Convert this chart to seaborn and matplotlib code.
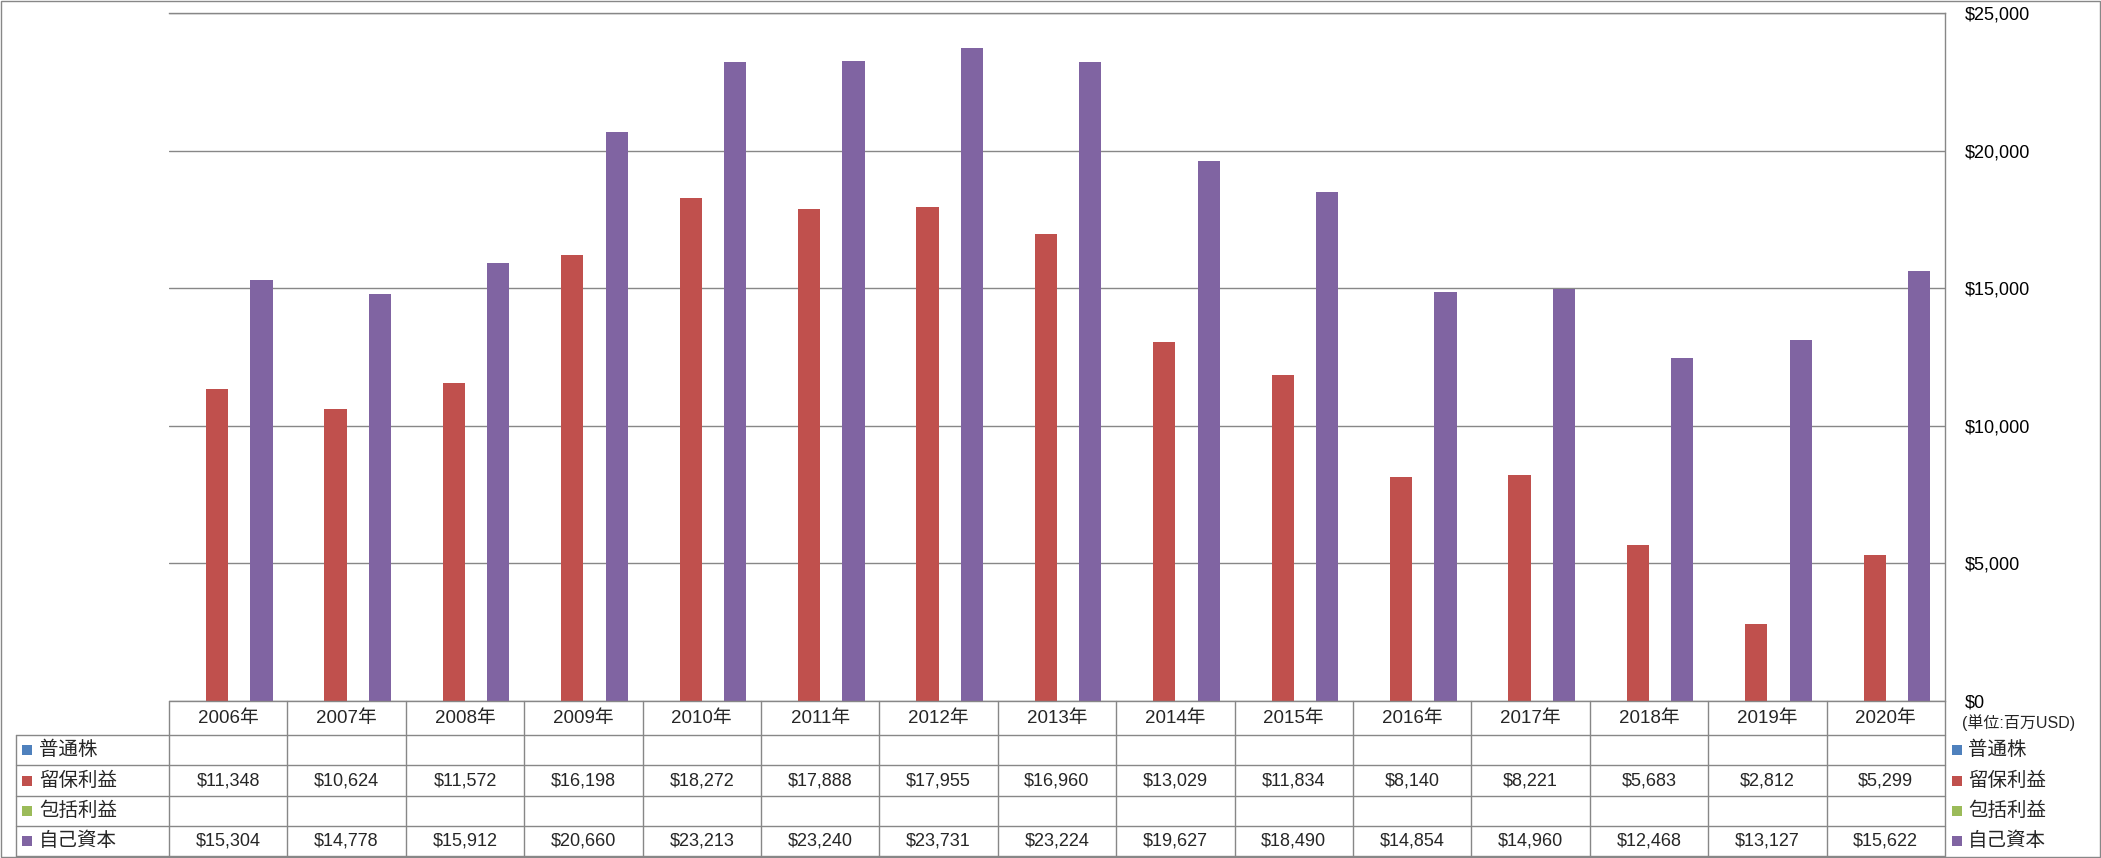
import matplotlib
matplotlib.use("Agg")
import matplotlib.pyplot as plt
import matplotlib.transforms as mtransforms
from matplotlib.patches import Rectangle
import seaborn as sns
import pandas as pd

years = ["2006年", "2007年", "2008年", "2009年", "2010年", "2011年", "2012年", "2013年",
         "2014年", "2015年", "2016年", "2017年", "2018年", "2019年", "2020年"]
series_names = ["普通株", "留保利益", "包括利益", "自己資本"]
common_stock = [None] * 15
retained_earnings = [11348, 10624, 11572, 16198, 18272, 17888, 17955, 16960,
                     13029, 11834, 8140, 8221, 5683, 2812, 5299]
comprehensive_income = [None] * 15
equity = [15304, 14778, 15912, 20660, 23213, 23240, 23731, 23224,
          19627, 18490, 14854, 14960, 12468, 13127, 15622]
colors = ["#4F81BD", "#C0504D", "#9BBB59", "#8064A2"]
y_ticks = [0, 5000, 10000, 15000, 20000, 25000]
unit_label = "(単位:百万USD)"

all_series = [common_stock, retained_earnings, comprehensive_income, equity]

rows = []
for name, vals in zip(series_names, all_series):
    for yr, v in zip(years, vals):
        if v is not None:
            rows.append({"year": yr, "series": name, "value": v})
df = pd.DataFrame(rows)

sns.set_theme(style="white")
plt.rcParams["font.family"] = ["Liberation Sans", "Noto Sans CJK JP", "DejaVu Sans"]

W, H = 2101, 858
fig = plt.figure(figsize=(W / 100, H / 100), dpi=100)
fig.patch.set_facecolor("white")

plot_left, plot_right, plot_top, plot_bottom = 169, 1945, 13, 701
ax = fig.add_axes([plot_left / W, 1 - plot_bottom / H,
                   (plot_right - plot_left) / W, (plot_bottom - plot_top) / H])

sns.barplot(data=df, x="year", y="value", hue="series", order=years,
            hue_order=series_names, palette=dict(zip(series_names, colors)),
            width=0.75, saturation=1, errorbar=None, linewidth=0,
            legend=False, ax=ax, zorder=3)

grid_c = "#878787"
ax.set_xlim(-0.5, len(years) - 0.5)
ax.set_ylim(0, 25000)
ax.set_yticks(y_ticks)
ax.set_yticklabels([f"${v:,.0f}" for v in y_ticks], fontsize=13)
ax.set_xticks([])
ax.set_xlabel("")
ax.set_ylabel("")
ax.yaxis.grid(True, color=grid_c, linewidth=1, zorder=0)
ax.set_axisbelow(True)
ax.tick_params(axis="y", left=False, right=False, labelleft=False,
               labelright=True, length=0, pad=14, colors="black")
for s in ["left", "bottom"]:
    ax.spines[s].set_visible(False)
for s in ["top", "right"]:
    ax.spines[s].set_visible(True)
    ax.spines[s].set_color(grid_c)
    ax.spines[s].set_linewidth(1)

# overlay for the data table
ov = fig.add_axes([0, 0, 1, 1])
ov.set_xlim(0, W)
ov.set_ylim(H, 0)
ov.axis("off")
ov.patch.set_alpha(0)
blend = mtransforms.blended_transform_factory(ax.transData, ov.transData)

row_y = [701, 735, 765, 796, 826, 856]
lw = 1
n = len(years)
# top of header row
ov.plot([-0.5, n - 0.5], [row_y[0], row_y[0]], color=grid_c, lw=lw, transform=blend, clip_on=False)
# series row lines
for yv in row_y[1:]:
    ov.plot([16, plot_right], [yv, yv], color=grid_c, lw=lw, clip_on=False)
# column separators
for i in range(n + 1):
    ov.plot([i - 0.5, i - 0.5], [row_y[0], row_y[-1]], color=grid_c, lw=lw,
            transform=blend, clip_on=False)
ov.plot([16, 16], [row_y[1], row_y[-1]], color=grid_c, lw=lw, clip_on=False)

# header
hdr_y = (row_y[0] + row_y[1]) / 2
for i, yr in enumerate(years):
    ov.text(i, hdr_y, yr, transform=blend, ha="center", va="center", fontsize=13.5)

# rows
for r, (name, vals, col) in enumerate(zip(series_names, all_series, colors)):
    cy = (row_y[r + 1] + row_y[r + 2]) / 2
    ov.add_patch(Rectangle((22, cy - 5), 10, 10, facecolor=col, edgecolor="none"))
    ov.text(39, cy, name, ha="left", va="center", fontsize=14)
    ov.add_patch(Rectangle((1952, cy - 5), 10, 10, facecolor=col, edgecolor="none"))
    ov.text(1968, cy, name, ha="left", va="center", fontsize=14)
    for i, v in enumerate(vals):
        if v is not None:
            ov.text(i, cy, f"${v:,.0f}", transform=blend, ha="center", va="center",
                    fontsize=13)

ov.text(1962, 723, unit_label, ha="left", va="center", fontsize=11.5)

# outer border
ov.add_patch(Rectangle((0.5, 0.5), W - 1.5, H - 1.5, facecolor="none",
                       edgecolor=grid_c, lw=1, clip_on=False))

fig.savefig("out.png", dpi=100)
